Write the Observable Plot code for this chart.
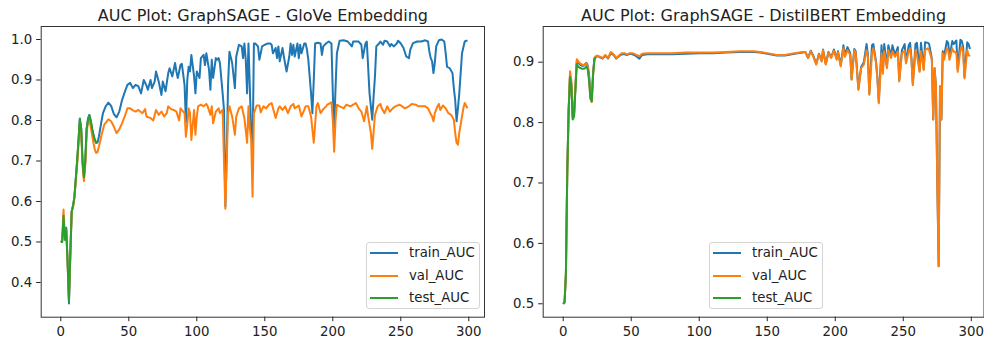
<!DOCTYPE html>
<html><head><meta charset="utf-8">
<script src="https://cdn.jsdelivr.net/npm/d3@7"></script>
<script src="https://cdn.jsdelivr.net/npm/@observablehq/plot@0.6"></script>
<style>
html,body{margin:0;padding:0;background:#fff;}
#wrap{position:relative;width:984px;height:343px;overflow:hidden;font-family:"DejaVu Sans",sans-serif;color:#222;}
.panel{position:absolute;top:0;}
.legend{position:absolute;border:1px solid #d4d4d4;border-radius:3px;background:rgba(255,255,255,0.85);box-sizing:border-box;width:114px;height:67px;}
.legend .sw{position:absolute;left:3px;width:28px;height:2px;}
.legend .lb{position:absolute;left:42px;font-size:13.3px;line-height:16px;white-space:nowrap;}
</style>
</head><body>
<div id="wrap"></div>
<script>
// ---------- data ----------
const seriesNames = ["train_AUC", "val_AUC", "test_AUC"];
const seriesColors = ["#1f77b4", "#ff7f0e", "#2ca02c"];
const xTicks = [0, 50, 100, 150, 200, 250, 300];
const yTicksGlove = [0.4, 0.5, 0.6, 0.7, 0.8, 0.9, 1.0];
const yTicksBert = [0.5, 0.6, 0.7, 0.8, 0.9];
const titleGlove = "AUC Plot: GraphSAGE - GloVe Embedding";
const titleBert = "AUC Plot: GraphSAGE - DistilBERT Embedding";

// [epoch, AUC]
const gloveTrain = [[0,.500],[1,.500],[2,.555],[3,.520],[4,.535],[5,.450],[6,.348],[7,.470],[8,.575],[9,.590],[10,.610],[11,.655],[12,.700],[13,.750],[14,.805],[15,.780],[16,.700],[17,.660],[18,.700],[19,.780],[20,.805],[21,.814],[22,.800],[23,.780],[24,.765],[25,.752],[26,.745],[27,.746],[28,.760],[29,.780],[30,.800],[31,.818],[33,.835],[35,.844],[37,.836],[39,.816],[41,.808],[43,.822],[45,.850],[47,.870],[49,.888],[51,.893],[53,.880],[55,.888],[57,.885],[59,.867],[61,.900],[63,.886],[64,.876],[66,.900],[67,.880],[69,.896],[70,.921],[72,.896],[74,.863],[75,.896],[77,.872],[79,.917],[80,.929],[82,.909],[84,.942],[85,.921],[86,.905],[88,.937],[89,.940],[91,.888],[92,.795],[93,.900],[94,.933],[95,.921],[96,.962],[98,.909],[99,.867],[100,.921],[102,.905],[103,.954],[105,.962],[106,.937],[107,.966],[109,.925],[110,.876],[111,.950],[112,.905],[114,.954],[115,.950],[116,.954],[117,.942],[119,.867],[120,.826],[121,.588],[122,.720],[123,.890],[124,.970],[126,.942],[128,.880],[129,.958],[131,.987],[133,.983],[134,.954],[135,.990],[136,.950],[137,.867],[138,.990],[139,.880],[140,.770],[141,.720],[142,.990],[143,.990],[145,.983],[146,.950],[148,.983],[150,.987],[152,.990],[154,.990],[155,.987],[156,.966],[158,.979],[159,.954],[160,.983],[161,.946],[163,.979],[164,.958],[166,.921],[168,.958],[169,.990],[170,.962],[171,.987],[172,.958],[174,.990],[175,.954],[176,.987],[177,.966],[179,.990],[180,.990],[181,.975],[182,.950],[184,.867],[185,.818],[186,.900],[187,.990],[189,.992],[191,.990],[192,.962],[193,.983],[195,.990],[197,.995],[199,.990],[200,.867],[201,.777],[202,.880],[203,.966],[205,.997],[208,.998],[211,.995],[214,.983],[215,.995],[219,.995],[221,.987],[222,.954],[224,.990],[225,.995],[227,.867],[229,.802],[230,.860],[231,.909],[232,.983],[234,.990],[235,.995],[237,.987],[238,.997],[240,.995],[242,.983],[243,.989],[245,.983],[247,.990],[248,.997],[250,.990],[252,.979],[254,.958],[256,.954],[257,.975],[259,.991],[262,.995],[265,.995],[268,.998],[270,.995],[271,.970],[272,.954],[273,.946],[274,.917],[275,.942],[276,.983],[278,.998],[280,1.000],[282,.995],[283,.966],[284,.933],[286,.929],[288,.917],[289,.880],[290,.850],[291,.798],[292,.830],[293,.867],[295,.966],[297,.995],[299,.998]];

const gloveVal = [[0,.500],[1,.505],[2,.580],[3,.510],[4,.530],[5,.450],[6,.360],[7,.470],[8,.575],[9,.585],[10,.610],[11,.650],[12,.690],[13,.740],[14,.795],[15,.770],[16,.690],[17,.650],[18,.690],[19,.770],[20,.795],[21,.800],[22,.785],[23,.765],[24,.745],[25,.728],[26,.720],[27,.722],[28,.735],[30,.765],[32,.790],[35,.803],[37,.798],[39,.785],[41,.769],[43,.778],[45,.793],[47,.810],[49,.830],[51,.830],[53,.825],[55,.822],[57,.826],[60,.818],[62,.828],[63,.810],[66,.806],[68,.800],[70,.826],[72,.814],[74,.822],[76,.810],[78,.819],[79,.835],[81,.828],[83,.826],[85,.822],[87,.800],[88,.830],[91,.818],[92,.760],[93,.790],[94,.830],[95,.818],[96,.752],[97,.790],[98,.826],[99,.765],[100,.810],[101,.835],[103,.839],[105,.835],[107,.841],[108,.835],[110,.814],[111,.835],[112,.793],[114,.822],[116,.830],[117,.818],[119,.826],[120,.700],[121,.582],[122,.700],[123,.818],[124,.835],[126,.810],[128,.765],[129,.810],[131,.830],[133,.835],[135,.806],[137,.745],[138,.835],[139,.780],[140,.750],[141,.612],[142,.818],[144,.837],[146,.837],[147,.820],[149,.835],[151,.830],[153,.839],[155,.843],[156,.830],[158,.806],[160,.830],[161,.835],[163,.826],[165,.835],[167,.818],[169,.835],[171,.841],[172,.830],[175,.837],[177,.810],[179,.826],[180,.835],[182,.835],[184,.810],[186,.745],[188,.835],[189,.843],[191,.818],[193,.828],[195,.835],[196,.839],[198,.843],[199,.845],[200,.800],[201,.723],[202,.800],[203,.839],[205,.835],[208,.830],[210,.839],[213,.835],[215,.839],[217,.843],[219,.830],[221,.822],[223,.798],[225,.835],[226,.810],[228,.769],[229,.730],[231,.814],[233,.835],[235,.841],[236,.830],[238,.818],[240,.835],[242,.822],[244,.830],[246,.835],[249,.839],[251,.835],[253,.830],[256,.835],[258,.841],[261,.839],[263,.835],[266,.835],[268,.835],[270,.830],[272,.816],[273,.810],[274,.798],[275,.818],[277,.835],[278,.841],[279,.826],[281,.837],[283,.830],[285,.818],[287,.814],[289,.802],[290,.769],[291,.745],[292,.740],[293,.770],[294,.790],[296,.830],[297,.843],[299,.830]];

const gloveTest = [[0,.500],[1,.500],[2,.565],[3,.505],[4,.530],[5,.450],[6,.355],[7,.470],[8,.575],[9,.590],[10,.610],[11,.655],[12,.700],[13,.750],[14,.803],[15,.780],[16,.700],[17,.660],[18,.700],[19,.780],[20,.800],[21,.812],[22,.800],[23,.780],[24,.765],[25,.752],[26,.745],[27,.745]];

const bertTrain = [[0,.500],[1,.503],[2,.550],[3,.720],[4,.820],[5,.878],[6,.865],[7,.810],[8,.815],[9,.860],[10,.902],[11,.899],[12,.897],[13,.895],[14,.894],[15,.894],[16,.896],[17,.899],[18,.895],[19,.880],[20,.845],[21,.840],[22,.885],[23,.906],[24,.909],[25,.910],[27,.908],[29,.906],[31,.911],[33,.906],[35,.915],[37,.912],[39,.906],[41,.910],[43,.913],[45,.913],[47,.912],[49,.914],[51,.913],[53,.911],[56,.906],[58,.912],[62,.913],[70,.913],[80,.913],[90,.914],[100,.915],[110,.915],[120,.916],[130,.917],[140,.917],[145,.916],[150,.914],[157,.911],[163,.911],[170,.914],[176,.916],[178,.917],[180,.907],[182,.919],[184,.910],[186,.897],[188,.914],[190,.902],[191,.921],[193,.897],[195,.917],[197,.908],[199,.921],[201,.906],[202,.918],[204,.895],[206,.928],[207,.912],[209,.925],[211,.915],[212,.872],[214,.922],[215,.918],[217,.856],[219,.892],[221,.900],[223,.930],[224,.912],[225,.848],[227,.928],[228,.930],[230,.900],[231,.873],[232,.834],[234,.928],[235,.885],[236,.930],[238,.893],[239,.928],[241,.910],[242,.928],[244,.912],[246,.925],[247,.870],[249,.920],[251,.930],[252,.900],[254,.928],[255,.932],[256,.906],[257,.864],[259,.930],[260,.932],[262,.886],[263,.932],[265,.889],[266,.933],[268,.932],[269,.930],[271,.906],[272,.805],[273,.890],[274,.860],[275,.700],[276,.562],[277,.860],[278,.805],[279,.918],[280,.910],[282,.935],[283,.932],[284,.908],[286,.935],[287,.930],[289,.936],[290,.888],[292,.937],[293,.935],[294,.925],[295,.876],[297,.933],[298,.930],[299,.922]];

const bertVal = [[0,.500],[1,.503],[2,.550],[3,.720],[4,.820],[5,.885],[6,.870],[7,.807],[8,.815],[9,.860],[10,.905],[11,.902],[12,.899],[13,.897],[14,.896],[15,.895],[16,.897],[17,.898],[18,.893],[19,.875],[20,.840],[21,.834],[22,.880],[23,.907],[24,.910],[25,.911],[27,.909],[29,.907],[31,.912],[33,.907],[35,.917],[37,.913],[39,.907],[41,.911],[43,.915],[45,.915],[47,.913],[49,.915],[51,.915],[53,.913],[56,.910],[58,.914],[62,.915],[70,.915],[80,.915],[90,.916],[100,.916],[110,.916],[120,.917],[130,.918],[140,.918],[145,.917],[150,.915],[157,.912],[163,.912],[170,.915],[176,.917],[178,.917],[180,.907],[182,.918],[184,.908],[186,.896],[188,.913],[190,.901],[191,.920],[193,.896],[195,.916],[197,.907],[199,.919],[201,.904],[202,.916],[204,.893],[206,.923],[207,.909],[209,.920],[211,.912],[212,.871],[214,.920],[215,.915],[217,.854],[219,.890],[221,.896],[223,.920],[224,.909],[225,.846],[227,.915],[228,.923],[230,.898],[231,.871],[232,.832],[234,.915],[235,.881],[236,.918],[238,.890],[239,.920],[241,.907],[242,.918],[244,.909],[246,.918],[247,.868],[249,.915],[251,.919],[252,.898],[254,.918],[255,.923],[256,.904],[257,.862],[259,.920],[260,.912],[262,.884],[263,.918],[265,.887],[266,.920],[268,.923],[269,.920],[271,.904],[272,.805],[273,.890],[274,.860],[275,.700],[276,.562],[277,.860],[278,.805],[279,.915],[280,.904],[282,.923],[283,.920],[284,.904],[286,.923],[287,.918],[289,.915],[290,.884],[292,.920],[293,.926],[294,.915],[295,.873],[297,.920],[298,.912],[299,.910]];

const bertTest = [[0,.500],[1,.502],[2,.550],[3,.720],[4,.820],[5,.875],[6,.860],[7,.805],[8,.810],[9,.855],[10,.897],[11,.893],[12,.891],[13,.890],[14,.889],[15,.889],[16,.890],[17,.893],[18,.888],[19,.870],[20,.840],[21,.835],[22,.880],[23,.905],[24,.908]];

// ---------- drawing ----------
const wrap = document.getElementById("wrap");

function panel(cfg) {
  const {left, title, series, xDomain, yDomain, yTicks, mLeft, mRight, legendLeft} = cfg;
  const svg = Plot.plot({
    width: 492, height: 343,
    marginLeft: mLeft, marginRight: mRight, marginTop: 26, marginBottom: 26.3,
    style: {fontFamily: '"DejaVu Sans", sans-serif', fontSize: "13.3px", color: "#222", background: "transparent", overflow: "visible"},
    x: {domain: xDomain},
    y: {domain: yDomain},
    marks: [
      ...series.map((s, i) => Plot.line(s, {x: d => d[0], y: d => d[1], stroke: seriesColors[i], strokeWidth: 2, strokeLinejoin: "round", strokeLinecap: "butt"})),
      Plot.frame({stroke: "#333", strokeWidth: 1}),
      Plot.axisX({ticks: xTicks, tickSize: 4.5, tickPadding: 5, label: null, tickFormat: d => String(d), fontSize: 13.3}),
      Plot.axisY({ticks: yTicks, tickSize: 4.5, tickPadding: 4.5, label: null, tickFormat: d3.format(".1f"), fontSize: 13.3}),
      Plot.text([title], {text: d => d, frameAnchor: "top", lineAnchor: "bottom", dy: -6, fontSize: 16, fill: "#222"})
    ]
  });
  svg.classList.add("panel");
  svg.style.left = left + "px";
  wrap.appendChild(svg);

  const lg = document.createElement("div");
  lg.className = "legend";
  lg.style.left = legendLeft + "px";
  lg.style.top = "242px";
  const rowY = [11, 33.5, 55.5];
  seriesNames.forEach((n, i) => {
    const sw = document.createElement("div");
    sw.className = "sw";
    sw.style.top = (rowY[i] - 2) + "px";
    sw.style.background = seriesColors[i];
    lg.appendChild(sw);
    const lb = document.createElement("div");
    lb.className = "lb";
    lb.style.top = (rowY[i] - 9) + "px";
    lb.textContent = n;
    lg.appendChild(lb);
  });
  wrap.appendChild(lg);
}

panel({left: 0, title: titleGlove, series: [gloveTrain, gloveVal, gloveTest],
  xDomain: [-14.41, 311.54], yDomain: [0.3143, 1.0321], yTicks: yTicksGlove,
  mLeft: 40.7, mRight: 8, legendLeft: 366});
panel({left: 492, title: titleBert, series: [bertTrain, bertVal, bertTest],
  xDomain: [-14.70, 309.33], yDomain: [0.4778, 0.9591], yTicks: yTicksBert,
  mLeft: 50.7, mRight: 0.5, legendLeft: 709});
</script>
</body></html>
